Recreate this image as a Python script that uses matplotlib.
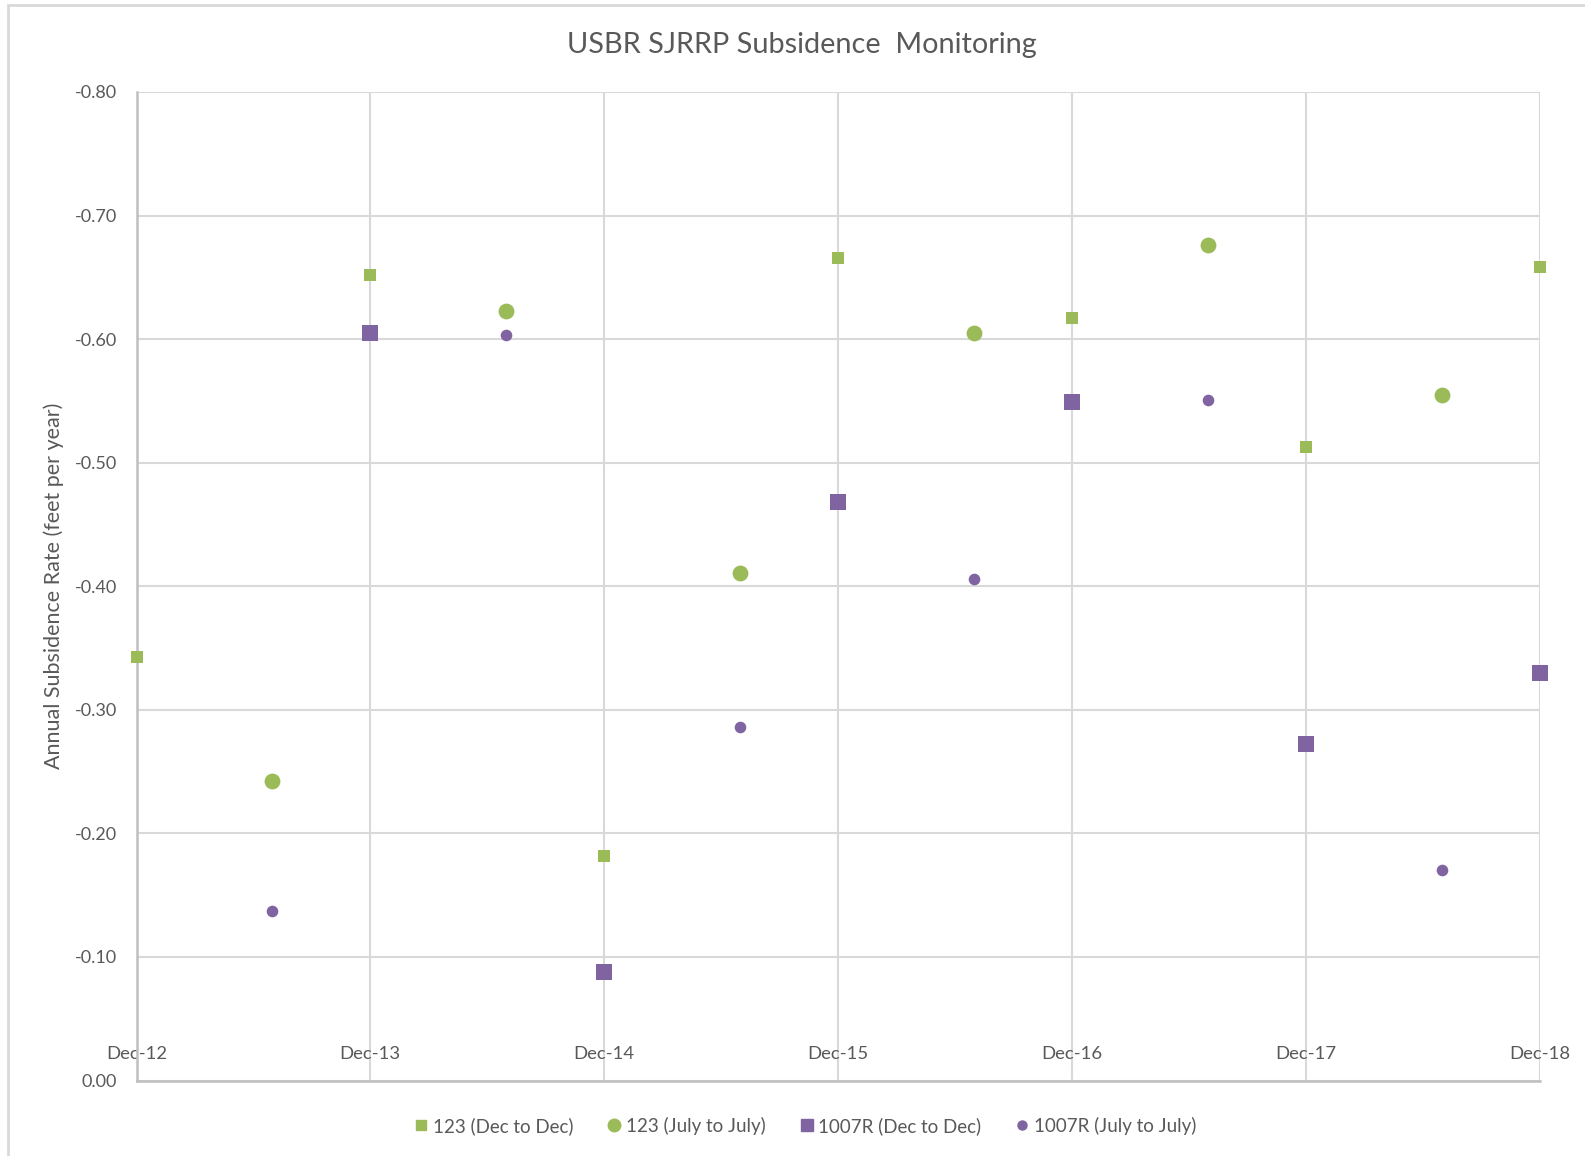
import matplotlib
matplotlib.use("Agg")
import matplotlib.pyplot as plt
from matplotlib.patches import Rectangle
from matplotlib.lines import Line2D
import pandas as pd

plt.rcParams['font.family'] = ['Lato', 'DejaVu Sans']

dec_dates = ["2012-12-01", "2013-12-01", "2014-12-01", "2015-12-01",
             "2016-12-01", "2017-12-01", "2018-12-01"]
jul_dates = ["2013-07-01", "2014-07-01", "2015-07-01", "2016-07-01",
             "2017-07-01", "2018-07-01"]

s123_dec = [-0.343, -0.652, -0.182, -0.666, -0.617, -0.513, -0.658]
s123_jul = [-0.242, -0.623, -0.411, -0.605, -0.676, -0.555]
s1007_dec_dates = ["2013-12-01", "2014-12-01", "2015-12-01", "2016-12-01",
                   "2017-12-01", "2018-12-01"]
s1007_dec = [-0.605, -0.088, -0.468, -0.549, -0.272, -0.330]
s1007_jul = [-0.137, -0.603, -0.286, -0.406, -0.551, -0.170]

tick_labels = ["Dec-12", "Dec-13", "Dec-14", "Dec-15", "Dec-16", "Dec-17", "Dec-18"]
y_ticks = [-0.80, -0.70, -0.60, -0.50, -0.40, -0.30, -0.20, -0.10, 0.00]

green = "#9BBB59"
purple = "#8064A2"
txt = "#595959"
gridc = "#D9D9D9"

fig = plt.figure(figsize=(15.85, 11.56), dpi=100)
ax = fig.add_axes([136.5/1585, 1-1080.5/1156, (1539.5-136.5)/1585, (1080.5-92)/1156])

# chart border
fig.patches.append(Rectangle((8/1585, -0.1), 1.2, 1 - 5/1156 + 0.1,
                             transform=fig.transFigure, fill=False,
                             edgecolor=gridc, lw=2))

dd = pd.to_datetime(dec_dates)
jd = pd.to_datetime(jul_dates)
d1007 = pd.to_datetime(s1007_dec_dates)

ax.scatter(dd, s123_dec, marker='s', s=85, color=green, zorder=3, clip_on=False,
           label="123 (Dec to Dec)", linewidths=0)
ax.scatter(jd, s123_jul, marker='o', s=130, color=green, zorder=3, clip_on=False,
           label="123 (July to July)", linewidths=0)
ax.scatter(d1007, s1007_dec, marker='s', s=140, color=purple, zorder=3, clip_on=False,
           label="1007R (Dec to Dec)", linewidths=0)
ax.scatter(jd, s1007_jul, marker='o', s=70, color=purple, zorder=3, clip_on=False,
           label="1007R (July to July)", linewidths=0)

ax.set_ylim(0.0, -0.80)
ax.set_xlim(dd[0], dd[-1])
ax.set_yticks(y_ticks)
ax.set_yticklabels([f"{v:.2f}" if v != 0 else "0.00" for v in y_ticks])
ax.set_xticks(dd)
ax.set_xticklabels(tick_labels)

ax.grid(True, color=gridc, lw=1.5, zorder=0)
ax.set_axisbelow(True)
for sp in ['top', 'right']:
    ax.spines[sp].set_visible(False)
for sp in ['left', 'bottom']:
    ax.spines[sp].set_color("#BFBFBF")
    ax.spines[sp].set_linewidth(1.8)
    ax.spines[sp].set_zorder(1)

ax.tick_params(axis='y', length=0, pad=14, labelsize=13, labelcolor=txt)
ax.tick_params(axis='x', length=0, pad=-25, labelsize=13.3, labelcolor=txt)

ax.set_ylabel("Annual Subsidence Rate (feet per year)", fontsize=15.5, color=txt, labelpad=8)
fig.text(0.5 + 9/1585, 1 - 45/1156, "USBR SJRRP Subsidence  Monitoring", ha='center', va='center',
         fontsize=20.8, color=txt)

handles = [
    Line2D([], [], marker='s', ls='', color=green, markersize=7),
    Line2D([], [], marker='o', ls='', color=green, markersize=9),
    Line2D([], [], marker='s', ls='', color=purple, markersize=9),
    Line2D([], [], marker='o', ls='', color=purple, markersize=6.5),
]
labels = ["123 (Dec to Dec)", "123 (July to July)", "1007R (Dec to Dec)", "1007R (July to July)"]
leg = fig.legend(handles, labels, loc='center', bbox_to_anchor=(804/1585, 1 - 1126/1156),
                 ncol=4, frameon=False, fontsize=13.5, handletextpad=0.1,
                 columnspacing=1.7, handlelength=1.0)
for t in leg.get_texts():
    t.set_color(txt)

fig.savefig("out.png", dpi=100)
